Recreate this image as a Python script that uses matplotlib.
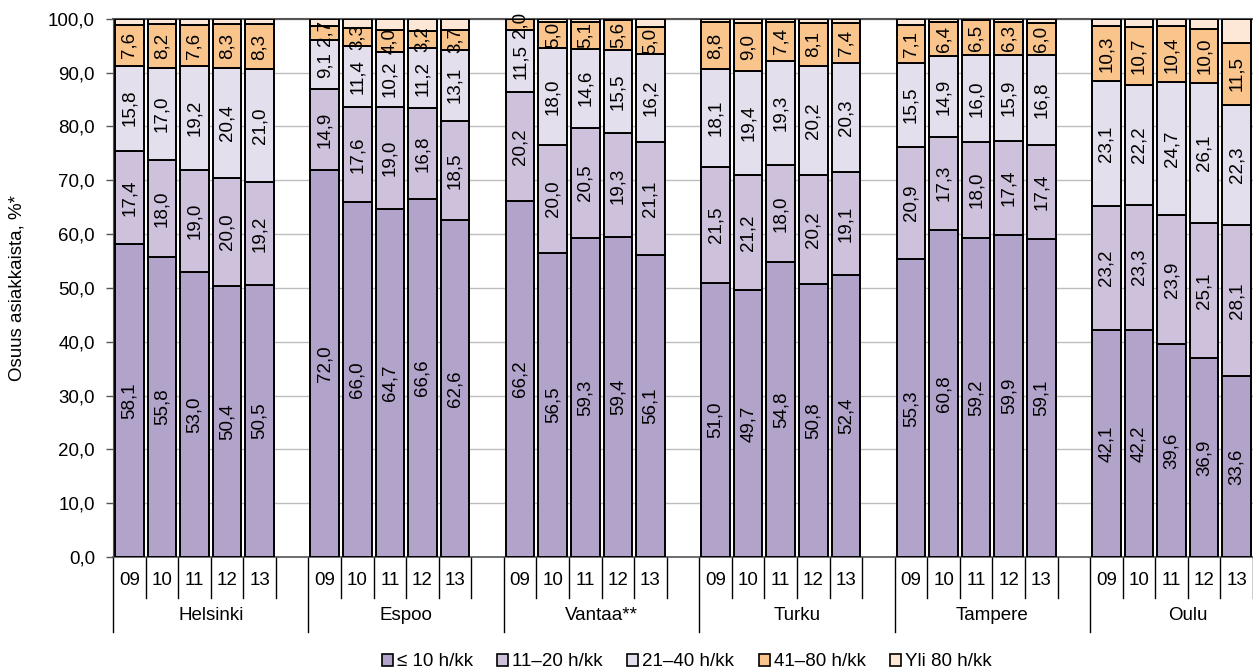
#!/usr/bin/env python3

import numpy as np
import matplotlib.pyplot as plt
from matplotlib.patches import Patch


CITIES = ["Helsinki", "Espoo", "Vantaa**", "Turku", "Tampere", "Oulu"]
YEARS = ["09", "10", "11", "12", "13"]
SERIES = ["≤ 10 h/kk", "11–20 h/kk", "21–40 h/kk", "41–80 h/kk", "Yli 80 h/kk"]
COLORS = ["#b1a3c9", "#cdc1dc", "#e3dfec", "#f9c58c", "#fde8d8"]

# values per city, years 09..13
upto_10 = [
    [58.1, 55.8, 53.0, 50.4, 50.5],
    [72.0, 66.0, 64.7, 66.6, 62.6],
    [66.2, 56.5, 59.3, 59.4, 56.1],
    [51.0, 49.7, 54.8, 50.8, 52.4],
    [55.3, 60.8, 59.2, 59.9, 59.1],
    [42.1, 42.2, 39.6, 36.9, 33.6],
]
h11_20 = [
    [17.4, 18.0, 19.0, 20.0, 19.2],
    [14.9, 17.6, 19.0, 16.8, 18.5],
    [20.2, 20.0, 20.5, 19.3, 21.1],
    [21.5, 21.2, 18.0, 20.2, 19.1],
    [20.9, 17.3, 18.0, 17.4, 17.4],
    [23.2, 23.3, 23.9, 25.1, 28.1],
]
h21_40 = [
    [15.8, 17.0, 19.2, 20.4, 21.0],
    [9.1, 11.4, 10.2, 11.2, 13.1],
    [11.5, 18.0, 14.6, 15.5, 16.2],
    [18.1, 19.4, 19.3, 20.2, 20.3],
    [15.5, 14.9, 16.0, 15.9, 16.8],
    [23.1, 22.2, 24.7, 26.1, 22.3],
]
h41_80 = [
    [7.6, 8.2, 7.6, 8.3, 8.3],
    [2.7, 3.3, 4.0, 3.2, 3.7],
    [2.0, 5.0, 5.1, 5.6, 5.0],
    [8.8, 9.0, 7.4, 8.1, 7.4],
    [7.1, 6.4, 6.5, 6.3, 6.0],
    [10.3, 10.7, 10.4, 10.0, 11.5],
]
over_80 = [
    [1.1, 1.0, 1.2, 0.9, 1.0],
    [1.3, 1.7, 2.1, 2.2, 2.1],
    [0.1, 0.5, 0.5, 0.2, 1.6],
    [0.6, 0.7, 0.5, 0.7, 0.8],
    [1.2, 0.6, 0.3, 0.5, 0.7],
    [1.3, 1.6, 1.4, 1.9, 4.5],
]

FONT = 13.5
SLOTS = 6  # 5 years + one empty slot per city


def fmt(v):
    return f"{v:.1f}".replace(".", ",")


def main():
    plt.rcParams["font.family"] = ["Liberation Sans", "DejaVu Sans"]

    fig = plt.figure(figsize=(12.53, 6.72), dpi=100)
    ax = fig.add_axes([0.0902, 0.171, 0.9098, 0.801])

    data = [upto_10, h11_20, h21_40, h41_80, over_80]
    x = np.array([c * SLOTS + j for c in range(len(CITIES)) for j in range(len(YEARS))])
    bottom = np.zeros(len(x))

    for k, series in enumerate(data):
        vals = np.array(series).ravel()
        ax.bar(x, vals, bottom=bottom, width=0.88, color=COLORS[k],
               edgecolor="black", linewidth=1.4, zorder=3)
        if k < 4:
            for xi, b, v in zip(x, bottom, vals):
                ax.text(xi, b + v / 2, fmt(v), rotation=90, ha="center",
                        va="center", fontsize=FONT, zorder=4)
        bottom += vals

    ax.set_xlim(-0.5, len(CITIES) * SLOTS - 1.5)
    ax.set_ylim(0, 100)
    ax.set_yticks(np.arange(0, 101, 10))
    ax.set_yticklabels([fmt(v) for v in np.arange(0, 101, 10)], fontsize=FONT)
    ax.tick_params(axis="y", length=5, width=1, color="#555555", pad=8)
    ax.set_xticks([])
    ax.yaxis.grid(True, color="#bdbdbd", linewidth=1, zorder=0)
    ax.set_ylabel("Osuus asiakkaista, %*", fontsize=FONT, labelpad=16)

    ax.spines["right"].set_visible(False)
    ax.spines["top"].set_color("#555555")
    ax.spines["top"].set_linewidth(1.5)
    ax.spines["left"].set_color("#555555")
    ax.spines["bottom"].set_color("#555555")
    ax.spines["bottom"].set_linewidth(1.2)

    # category axis: year labels, city labels and separators
    trans = ax.get_xaxis_transform()
    n_slots = len(CITIES) * SLOTS
    for s in range(n_slots):
        edge = s - 0.5
        low = -0.139 if s % SLOTS == 0 else -0.076
        ax.plot([edge, edge], [0, low], color="black", linewidth=1,
                transform=trans, clip_on=False)
    for c, city in enumerate(CITIES):
        for j, yr in enumerate(YEARS):
            ax.text(c * SLOTS + j, -0.043, yr, transform=trans, ha="center",
                    va="center", fontsize=FONT)
        ax.text(c * SLOTS + 2.5, -0.108, city, transform=trans, ha="center",
                va="center", fontsize=FONT)

    handles = [Patch(facecolor=col, edgecolor="black", linewidth=1.2) for col in COLORS]
    fig.legend(handles, SERIES, loc="center", bbox_to_anchor=(0.548, 0.015),
               ncol=5, frameon=False, fontsize=FONT, handlelength=0.6,
               handleheight=0.6, handletextpad=0.2, columnspacing=1.3)

    fig.savefig("out.png", dpi=100)


if __name__ == "__main__":
    main()
